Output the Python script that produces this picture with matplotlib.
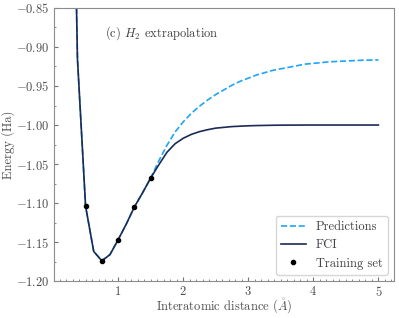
import numpy as np
import matplotlib
matplotlib.use('Agg')
import matplotlib.pyplot as plt
from matplotlib.ticker import MultipleLocator

plt.rcParams['font.family'] = 'serif'
plt.rcParams['font.serif'] = ['cmr10']
plt.rcParams['mathtext.fontset'] = 'cm'
plt.rcParams['axes.formatter.use_mathtext'] = True

# bond lengths (Angstrom)
dist = [0.25, 0.375, 0.5, 0.625, 0.75, 0.875, 1.0, 1.125, 1.25, 1.375, 1.5,
        1.625, 1.75, 1.875, 2.0, 2.125, 2.25, 2.375, 2.5, 2.625, 2.75, 2.875,
        3.0, 3.125, 3.25, 3.375, 3.5, 3.625, 3.75, 3.875, 4.0, 4.125, 4.25,
        4.375, 4.5, 4.625, 4.75, 4.875, 5.0]

# exact (FCI) energies
fci = [-0.35, -0.915, -1.104, -1.162, -1.174, -1.166, -1.147, -1.127, -1.105,
       -1.087, -1.068, -1.051, -1.035, -1.024, -1.017, -1.012, -1.0085, -1.006,
       -1.004, -1.003, -1.002, -1.0015, -1.001, -1.0007, -1.0005, -1.0003,
       -1.0002, -1.0001, -1.0001, -1.0, -1.0, -1.0, -1.0, -1.0, -1.0, -1.0,
       -1.0, -1.0, -1.0]

# model predictions
pred = [-0.35, -0.915, -1.104, -1.162, -1.174, -1.166, -1.147, -1.127, -1.105,
        -1.087, -1.068, -1.046, -1.026, -1.009, -0.996, -0.985, -0.976, -0.968,
        -0.961, -0.955, -0.949, -0.944, -0.940, -0.936, -0.933, -0.930, -0.928,
        -0.926, -0.924, -0.922, -0.921, -0.920, -0.919, -0.9185, -0.918,
        -0.9175, -0.917, -0.9168, -0.9165]

# training points
train_x = [0.5, 0.75, 1.0, 1.25, 1.5]
train_y = [-1.104, -1.174, -1.147, -1.105, -1.068]

fig = plt.figure(figsize=(3.99, 3.18), dpi=100)
ax = fig.add_axes([0.135, 0.116, 0.852, 0.859])

ax.plot(dist, pred, color='#1fa5f5', linestyle='--', linewidth=1.2, label='Predictions')
ax.plot(dist, fci, color='#1b2b55', linestyle='-', linewidth=1.2, label='FCI')
ax.plot(train_x, train_y, 'o', color='black', markersize=3, label='Training set')

ax.set_ylim(-1.2, -0.85)
ax.set_yticks(np.arange(-1.20, -0.849, 0.05))
ax.xaxis.set_minor_locator(MultipleLocator(0.1))
ax.yaxis.set_minor_locator(MultipleLocator(0.025))

ax.tick_params(which='both', direction='in', colors='0.45', labelcolor='0.3', labelsize=9, pad=3)
ax.tick_params(which='major', length=3)
ax.tick_params(which='minor', length=1.5)
for s in ax.spines.values():
    s.set_color('0.55')

ax.set_xlabel(r'Interatomic distance ($\mathring{A}$)', fontsize=9, color='0.3', labelpad=-2)
ax.set_ylabel('Energy (Ha)', fontsize=9, color='0.3', labelpad=1)

ax.text(0.15, 0.908, r'(c) $H_2$ extrapolation', transform=ax.transAxes,
        fontsize=9, color='0.25', va='center')

ax.legend(loc='lower right', fontsize=9, labelcolor='0.25')

fig.savefig('out.png', dpi=100)
